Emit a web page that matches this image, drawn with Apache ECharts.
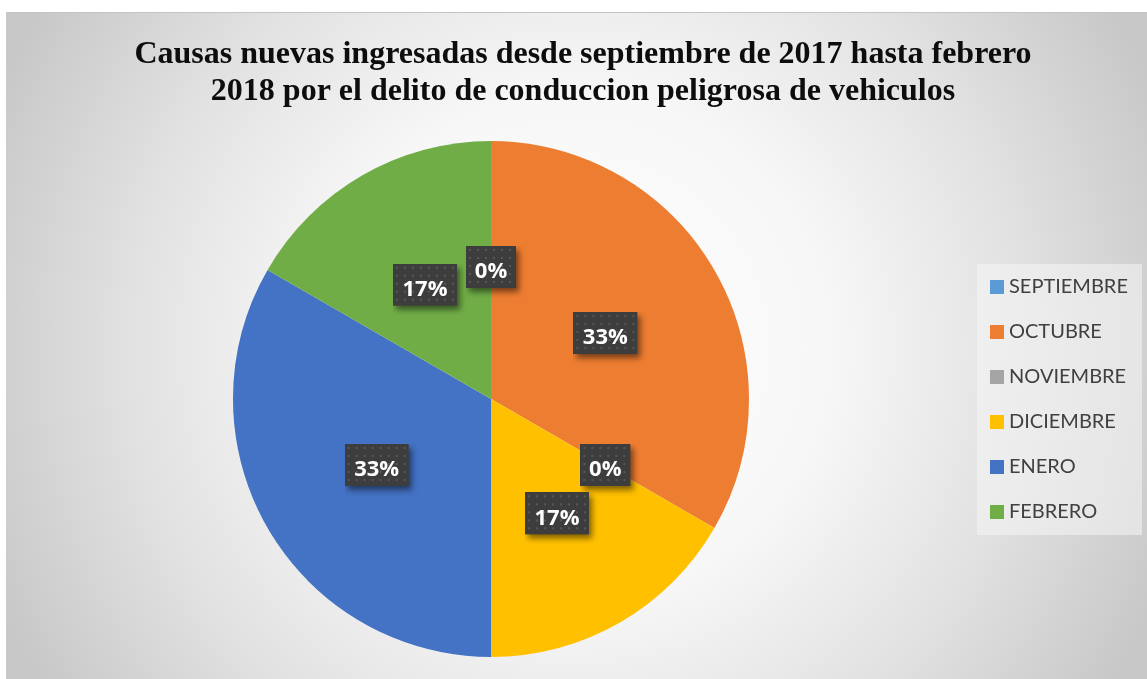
<!DOCTYPE html>
<html>
<head>
<meta charset="utf-8">
<script src="https://cdn.jsdelivr.net/npm/echarts@6/dist/echarts.min.js"></script>
<style>
  html, body { margin: 0; padding: 0; background: #ffffff; }
  #chart { position: absolute; left: 6px; top: 12px; width: 1141px; height: 667px; border-top: 1px solid #c4c4c4; box-sizing: border-box; }
</style>
</head>
<body>
<div id="chart"></div>
<script>
const titleText = 'Causas nuevas ingresadas desde septiembre de 2017 hasta febrero\n2018 por el delito de conduccion peligrosa de vehiculos';
const months = ['SEPTIEMBRE', 'OCTUBRE', 'NOVIEMBRE', 'DICIEMBRE', 'ENERO', 'FEBRERO'];
const values = [0, 2, 0, 1, 2, 1];
const colors = ['#5B9BD5', '#ED7D31', '#A5A5A5', '#FFC000', '#4472C4', '#70AD47'];

const PAD = 10;
function makeBg(w, h) {
  const c = document.createElement('canvas');
  c.width = w + PAD; c.height = h + PAD;
  const ctx = c.getContext('2d');
  ctx.save();
  ctx.shadowColor = 'rgba(0,0,0,0.5)';
  ctx.shadowBlur = 6;
  ctx.shadowOffsetX = 3;
  ctx.shadowOffsetY = 4;
  ctx.fillStyle = '#3d3d3d';
  ctx.fillRect(0, 0, w, h);
  ctx.restore();
  ctx.fillStyle = '#3d3d3d';
  ctx.fillRect(0, 0, w, h);
  ctx.fillStyle = '#575757';
  for (let y = 3; y < h - 1; y += 8) {
    for (let x = 3; x < w - 1; x += 8) {
      ctx.fillRect(x, y, 2, 2);
    }
  }
  return c;
}

const bgWide = makeBg(64, 42);
const bgNarrow = makeBg(50, 42);

const chart = echarts.init(document.getElementById('chart'), null, { renderer: 'canvas' });

const data = months.map((m, i) => {
  const narrow = values[i] === 0;
  return {
    name: m,
    value: values[i],
    itemStyle: { color: colors[i] },
    label: {
      width: narrow ? 50 : 64,
      height: 42,
      lineHeight: 42,
      backgroundColor: { image: narrow ? bgNarrow : bgWide }
    }
  };
});

chart.setOption({
  backgroundColor: {
    type: 'radial', x: 0.5, y: 0.5, r: 0.95,
    colorStops: [
      { offset: 0, color: '#ffffff' },
      { offset: 0.4, color: '#f7f7f7' },
      { offset: 0.7, color: '#e2e2e2' },
      { offset: 1, color: '#c8c8c8' }
    ]
  },
  animation: false,
  title: {
    text: titleText,
    left: 577,
    top: 23,
    textAlign: 'center',
    padding: 0,
    textStyle: {
      fontFamily: 'Liberation Serif',
      fontWeight: 'bold',
      fontSize: 32,
      lineHeight: 37,
      color: '#0d0d0d'
    }
  },
  legend: {
    orient: 'vertical',
    left: 971,
    top: 251,
    padding: [13, 14, 13, 13],
    backgroundColor: 'rgba(245,245,245,0.55)',
    icon: 'rect',
    itemWidth: 14,
    itemHeight: 14,
    itemGap: 25,
    data: months,
    textStyle: {
      fontFamily: 'Lato',
      fontSize: 20,
      lineHeight: 20,
      color: '#404040'
    }
  },
  series: [{
    type: 'pie',
    center: [485, 386],
    radius: 258,
    startAngle: 90,
    clockwise: true,
    percentPrecision: 0,
    avoidLabelOverlap: false,
    labelLayout: { hideOverlap: false },
    data: data,
    itemStyle: { borderWidth: 0 },
    emphasis: { disabled: true },
    label: {
      show: true,
      position: 'inside',
      formatter: '{d}%',
      color: '#ffffff',
      fontFamily: 'Open Sans',
      fontWeight: 'bold',
      fontSize: 22,
      align: 'center',
      verticalAlign: 'middle',
      padding: [0, PAD, PAD, 0],
      offset: [PAD / 2, PAD / 2]
    },
    labelLine: { show: false }
  }]
});
</script>
</body>
</html>
